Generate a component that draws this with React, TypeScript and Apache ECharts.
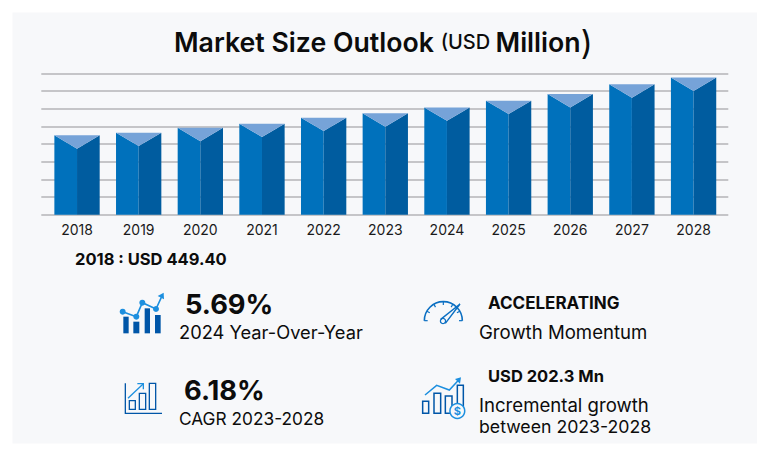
import React, { useEffect, useRef } from "react";
import * as echarts from "echarts";

const years = ["2018", "2019", "2020", "2021", "2022", "2023", "2024", "2025", "2026", "2027", "2028"];
const marketSize = [449.4, 464, 492, 515, 549, 574, 607, 645, 683, 738, 776];
const axisMax = 800;
const axisStep = 100;

const FONT = "Inter, 'Open Sans', sans-serif";
const BLUE_DARK = "#0056a8";
const BLUE_LIGHT = "#1c8fdf";
const ICON_BLUE = "#0b6fc2";
const PANEL = "#f7f8fa";

const label = (text: string, x: number, y: number, size: number, weight: number) => ({
  type: "text",
  x,
  y,
  style: { text, fontFamily: FONT, fontSize: size, fontWeight: weight, fill: "#0c0c0c", textVerticalAlign: "middle", textAlign: "left" },
  silent: true,
});

const line = (pts: number[][], ox: number, oy: number, color: string, w = 1.5) => ({
  type: "polyline",
  silent: true,
  shape: { points: pts.map(([a, b]) => [ox + a / 3, oy + b / 3]) },
  style: { stroke: color, lineWidth: w, fill: "none" },
});
const box = (x0: number, y0: number, x1: number, y1: number, ox: number, oy: number, color: string, filled: boolean, w = 1.5) => ({
  type: "rect",
  silent: true,
  shape: { x: ox + x0 / 3, y: oy + y0 / 3, width: (x1 - x0) / 3, height: (y1 - y0) / 3 },
  style: filled ? { fill: color } : { fill: "none", stroke: color, lineWidth: w },
});
const dot = (x: number, y: number, r: number, ox: number, oy: number, color: string) => ({
  type: "circle",
  silent: true,
  shape: { cx: ox + x / 3, cy: oy + y / 3, r },
  style: { fill: color },
});
const tri = (pts: number[][], ox: number, oy: number, color: string) => ({
  type: "polygon",
  silent: true,
  shape: { points: pts.map(([a, b]) => [ox + a / 3, oy + b / 3]) },
  style: { fill: color },
});

const icons = () => {
  const a = [100, 280];
  const b = [410, 280];
  const [ax, ay] = a;
  const [bx, by] = b;
  const gaugeTicks = [0, 1, 2, 3, 4, 5, 6].map((i) => {
    const t = Math.PI + (i * Math.PI) / 6;
    const cx = 100, cy = 122;
    return line([[cx + 47 * Math.cos(t), cy + 47 * Math.sin(t)], [cx + 57 * Math.cos(t), cy + 57 * Math.sin(t)]], bx, by, ICON_BLUE, 1.2);
  });
  return [
    box(70, 110, 86, 160, ax, ay, BLUE_DARK, true),
    box(100, 125, 118, 160, ax, ay, BLUE_DARK, true),
    box(134, 85, 150, 160, ax, ay, BLUE_DARK, true),
    box(165, 105, 182, 160, ax, ay, BLUE_DARK, true),
    line([[68, 95], [109, 110], [127, 68], [168, 87], [184, 52]], ax, ay, BLUE_LIGHT, 1.6),
    dot(68, 95, 3, ax, ay, BLUE_LIGHT),
    dot(109, 110, 3, ax, ay, BLUE_LIGHT),
    dot(127, 68, 3, ax, ay, BLUE_LIGHT),
    dot(168, 87, 3, ax, ay, BLUE_LIGHT),
    tri([[191, 38], [173, 48], [192, 58]], ax, ay, BLUE_LIGHT),

    line([[76, 310], [76, 400], [186, 400]], ax, ay, BLUE_DARK, 1.3),
    box(88, 362, 106, 388, ax, ay, BLUE_DARK, false, 1.3),
    box(118, 340, 137, 388, ax, ay, BLUE_DARK, false, 1.3),
    box(148, 310, 167, 388, ax, ay, BLUE_DARK, false, 1.3),
    line([[84, 355], [130, 311]], ax, ay, BLUE_LIGHT, 1.3),
    line([[112, 311], [130, 311], [130, 328]], ax, ay, BLUE_LIGHT, 1.3),

    {
      type: "arc",
      silent: true,
      shape: { cx: bx + 100 / 3, cy: by + 122 / 3, r: 57 / 3, startAngle: Math.PI, endAngle: 2 * Math.PI },
      style: { stroke: ICON_BLUE, lineWidth: 1.6, fill: "none" },
    },
    ...gaugeTicks,
    line([[92, 118], [150, 72], [106, 130]], bx, by, ICON_BLUE, 1.4),
    {
      type: "circle",
      silent: true,
      shape: { cx: bx + 99 / 3, cy: by + 123 / 3, r: 2.6 },
      style: { fill: "none", stroke: ICON_BLUE, lineWidth: 1.3 },
    },

    box(38, 364, 56, 400, bx, by, BLUE_DARK, false),
    box(72, 340, 92, 400, bx, by, BLUE_DARK, false),
    box(106, 348, 126, 400, bx, by, BLUE_DARK, false),
    box(142, 316, 160, 400, bx, by, BLUE_DARK, false),
    line([[45, 345], [80, 316], [118, 330], [146, 300]], bx, by, BLUE_LIGHT, 1.5),
    tri([[153, 292], [135, 297], [150, 311]], bx, by, BLUE_LIGHT),
    {
      type: "circle",
      silent: true,
      shape: { cx: bx + 142 / 3, cy: by + 393 / 3, r: 7.4 },
      style: { fill: PANEL, stroke: BLUE_LIGHT, lineWidth: 1.5 },
    },
    {
      type: "text",
      silent: true,
      x: bx + 142 / 3,
      y: by + 393 / 3,
      style: { text: "$", fontFamily: FONT, fontSize: 11, fontWeight: 700, fill: BLUE_LIGHT, textAlign: "center", textVerticalAlign: "middle" },
    },
  ];
};

export default function App() {
  const ref = useRef<HTMLDivElement>(null);
  useEffect(() => {
    document.body.style.margin = "0";
    const chart = echarts.init(ref.current!, undefined, { renderer: "svg" });
    chart.setOption({
      animation: false,
      backgroundColor: "#ffffff",
      title: {
        text: "{m|Market Size Outlook }{s|(USD }{m|Million}{p|)}",
        left: 174,
        top: 25,
        padding: 0,
        textStyle: {
          rich: {
            m: { fontFamily: FONT, fontSize: 26.7, fontWeight: 600, color: "#0c0c0c" },
            s: { fontFamily: FONT, fontSize: 20, fontWeight: 500, color: "#0c0c0c" },
            p: { fontFamily: FONT, fontSize: 33, fontWeight: 400, color: "#0c0c0c" },
          },
        },
      },
      grid: [
        { left: 41.3, right: 770 - 728.3, top: 73.3, height: 141.4 },
        { left: 46.2, right: 770 - 724.4, top: 73.3, height: 141.4 },
      ],
      xAxis: [
        { type: "category", gridIndex: 0, data: years, show: false },
        {
          type: "category",
          gridIndex: 1,
          data: years,
          axisLine: { show: false },
          axisTick: { show: false },
          axisLabel: { color: "#1a1a1a", fontFamily: FONT, fontSize: 14, margin: 8 },
        },
      ],
      yAxis: [
        {
          type: "value",
          gridIndex: 0,
          min: 0,
          max: axisMax,
          interval: axisStep,
          axisLine: { show: false },
          axisTick: { show: false },
          axisLabel: { show: false },
          splitLine: { show: true, lineStyle: { color: "#b4b5b7", width: 1.6 } },
        },
        {
          type: "value",
          gridIndex: 1,
          min: 0,
          max: axisMax,
          interval: axisStep,
          show: false,
          splitLine: { show: false },
        },
      ],
      series: [
        {
          type: "custom",
          name: "Market Size",
          xAxisIndex: 1,
          yAxisIndex: 1,
          data: years.map((y, i) => [i, marketSize[i]]),
          encode: { x: 0, y: 1 },
          clip: false,
          renderItem: (_: any, api: any) => {
            const i = api.value(0);
            const top = api.coord([i, api.value(1)]);
            const base = api.coord([i, 0]);
            const half = (api.size([1, 0])[0] * 0.735) / 2;
            const cx = top[0];
            const l = cx - half;
            const r = cx + half;
            const notch = top[1] + 13.4;
            return {
              type: "group",
              children: [
                { type: "polygon", shape: { points: [[l, top[1]], [cx, notch], [cx, base[1]], [l, base[1]]] }, style: { fill: "#0071bc" } },
                { type: "polygon", shape: { points: [[r, top[1]], [cx, notch], [cx, base[1]], [r, base[1]]] }, style: { fill: "#005c9f" } },
                { type: "polygon", shape: { points: [[l, top[1]], [r, top[1]], [cx, notch]] }, style: { fill: "#76a3d8" } },
              ],
            };
          },
        },
      ],
      graphic: [
        { type: "rect", z: -10, silent: true, shape: { x: 12.5, y: 12.5, width: 744.5, height: 431 }, style: { fill: PANEL } },
        label("2018 : USD 449.40", 75, 259, 16.5, 700),
        label("5.69%", 185, 304, 27.3, 700),
        label("2024 Year-Over-Year", 179, 332, 18.3, 400),
        label("6.18%", 184, 390, 27.3, 700),
        label("CAGR 2023-2028", 179, 418, 17.3, 400),
        label("ACCELERATING", 488, 303, 17, 700),
        label("Growth Momentum", 479, 332, 18.6, 400),
        label("USD 202.3 Mn", 488, 376, 16.5, 700),
        label("Incremental growth", 479, 405, 18.6, 400),
        label("between 2023-2028", 479, 426, 17.7, 400),
        ...icons(),
      ],
    });
    return () => chart.dispose();
  }, []);
  return <div ref={ref} style={{ width: 770, height: 456 }} />;
}
